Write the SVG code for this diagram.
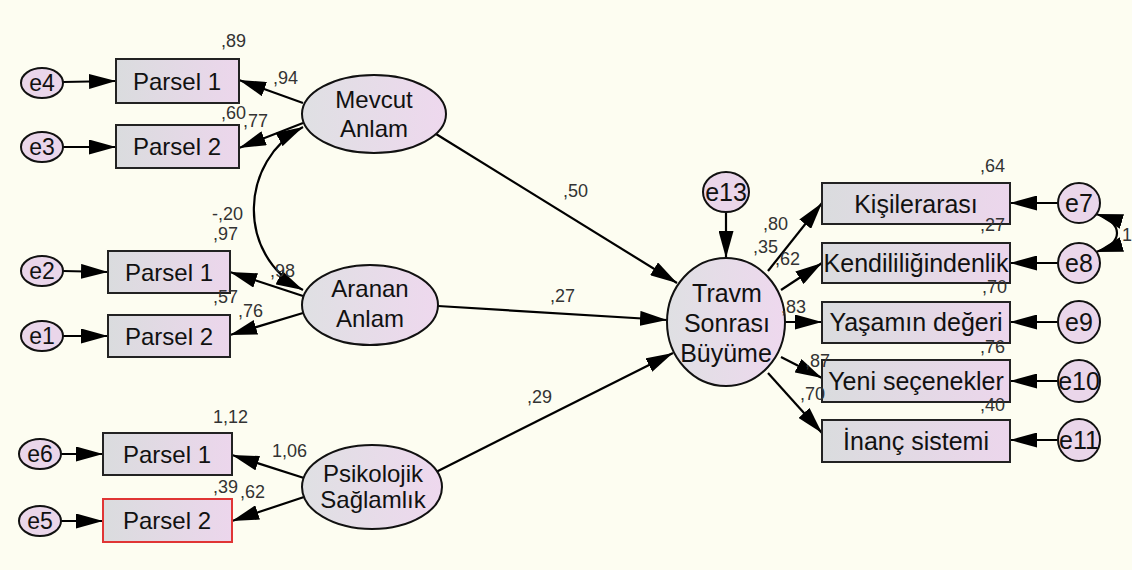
<svg xmlns="http://www.w3.org/2000/svg" width="1132" height="570" viewBox="0 0 1132 570">
<defs>
<linearGradient id="gb" x1="0" y1="0" x2="1" y2="0">
<stop offset="0" stop-color="#dadcde"/><stop offset="1" stop-color="#ecd6ec"/>
</linearGradient>
<linearGradient id="ge" x1="0" y1="0" x2="1" y2="0">
<stop offset="0" stop-color="#dfe0e3"/><stop offset="1" stop-color="#eed8ee"/>
</linearGradient>
<marker id="ah" viewBox="0 0 27 15" refX="27" refY="7.5" markerWidth="27" markerHeight="15" markerUnits="userSpaceOnUse" orient="auto-start-reverse">
<path d="M0,0 L27,7.5 L0,15 Z" fill="#000"/>
</marker>
<style>
.bx{fill:url(#gb);stroke:#222;stroke-width:2}
.lv{fill:url(#ge);stroke:#111;stroke-width:2}
.er{fill:#ead6ea;stroke:#111;stroke-width:2}
.c{fill:none;stroke:#000;stroke-width:2.2;marker-end:url(#ah)}
.cv{fill:none;stroke:#000;stroke-width:2.2;marker-start:url(#ah);marker-end:url(#ah)}
text{font-family:"Liberation Sans",Arial,sans-serif;fill:#111}
.t{font-size:24px;text-anchor:middle}
.tr{font-size:25px;text-anchor:middle}
.te{font-size:23px;text-anchor:middle}
.n{font-size:18px;fill:#333}
</style>
</defs>
<rect width="1132" height="570" fill="#fdfdf1"/>

<g id="connectors">
<line class="c" x1="63" y1="82" x2="116" y2="81"/>
<line class="c" x1="63" y1="147" x2="116" y2="147"/>
<line class="c" x1="63" y1="271" x2="108" y2="272"/>
<line class="c" x1="63" y1="336" x2="108" y2="336"/>
<line class="c" x1="61" y1="454" x2="103" y2="454"/>
<line class="c" x1="61" y1="521" x2="103" y2="521"/>
<line class="c" x1="303" y1="103" x2="239" y2="80"/>
<line class="c" x1="303" y1="123" x2="239" y2="148"/>
<line class="c" x1="303" y1="296" x2="230" y2="272"/>
<line class="c" x1="303" y1="313" x2="230" y2="335"/>
<line class="c" x1="304" y1="478" x2="232" y2="455"/>
<line class="c" x1="304" y1="497" x2="232" y2="521"/>
<path class="cv" d="M303,127 C240,160 235,255 303,290"/>
<line class="c" x1="436" y1="134" x2="677" y2="283"/>
<line class="c" x1="438" y1="306" x2="667" y2="320"/>
<line class="c" x1="436" y1="472" x2="673" y2="353"/>
<line class="c" x1="726" y1="212" x2="726" y2="258"/>
<line class="c" x1="768" y1="271" x2="822" y2="203"/>
<line class="c" x1="781" y1="290" x2="822" y2="263"/>
<line class="c" x1="785" y1="322" x2="822" y2="322"/>
<line class="c" x1="781" y1="357" x2="822" y2="378"/>
<line class="c" x1="768" y1="373" x2="822" y2="433"/>
<line class="c" x1="1058" y1="203" x2="1010" y2="203"/>
<line class="c" x1="1058" y1="263" x2="1010" y2="263"/>
<line class="c" x1="1058" y1="322" x2="1010" y2="322"/>
<line class="c" x1="1058" y1="381" x2="1010" y2="381"/>
<line class="c" x1="1058" y1="440" x2="1010" y2="440"/>
<path class="cv" d="M1096,214 C1124,222 1124,244 1096,252"/>
</g>

<g id="e4"><ellipse class="er" cx="42" cy="83" rx="21" ry="15"/><text class="te" x="42" y="91">e4</text></g>
<g id="e3"><ellipse class="er" cx="42" cy="147" rx="21" ry="15"/><text class="te" x="42" y="155">e3</text></g>
<g id="e2"><ellipse class="er" cx="42" cy="271" rx="21" ry="15"/><text class="te" x="42" y="279">e2</text></g>
<g id="e1"><ellipse class="er" cx="42" cy="336" rx="21" ry="15"/><text class="te" x="42" y="344">e1</text></g>
<g id="e6"><ellipse class="er" cx="40" cy="454" rx="21" ry="15"/><text class="te" x="40" y="462">e6</text></g>
<g id="e5"><ellipse class="er" cx="40" cy="521" rx="21" ry="15"/><text class="te" x="40" y="529">e5</text></g>

<g id="m_p1"><rect class="bx" x="116" y="59" width="123" height="44"/><text class="t" x="177" y="90">Parsel 1</text></g>
<g id="m_p2"><rect class="bx" x="116" y="125" width="123" height="43"/><text class="t" x="177" y="155">Parsel 2</text></g>
<g id="a_p1"><rect class="bx" x="108" y="251" width="122" height="42"/><text class="t" x="169" y="281">Parsel 1</text></g>
<g id="a_p2"><rect class="bx" x="108" y="315" width="122" height="42"/><text class="t" x="169" y="345">Parsel 2</text></g>
<g id="p_p1"><rect class="bx" x="103" y="433" width="129" height="42"/><text class="t" x="167" y="463">Parsel 1</text></g>
<g id="p_p2"><rect class="bx" x="103" y="499" width="129" height="43" style="stroke:#e03535"/><text class="t" x="167" y="529">Parsel 2</text></g>

<g id="mevcut"><ellipse class="lv" cx="374" cy="114" rx="72" ry="39"/><text class="t" x="374" y="108">Mevcut</text><text class="t" x="374" y="137">Anlam</text></g>
<g id="aranan"><ellipse class="lv" cx="370" cy="305" rx="68" ry="40"/><text class="t" x="370" y="297">Aranan</text><text class="t" x="370" y="327">Anlam</text></g>
<g id="psikolojik"><ellipse class="lv" cx="372" cy="487" rx="70" ry="42"/><text class="t" x="373" y="482">Psikolojik</text><text class="t" x="373" y="508">Sağlamlık</text></g>

<g id="travm"><ellipse class="lv" cx="726" cy="322" rx="59" ry="64"/><text class="tr" x="727" y="302">Travm</text><text class="tr" x="727" y="332">Sonrası</text><text class="tr" x="726" y="362">Büyüme</text></g>
<g id="e13"><ellipse class="er" cx="726" cy="192" rx="23" ry="20"/><text class="tr" x="726" y="201">e13</text></g>

<g id="kisilerarasi"><rect class="bx" x="822" y="183" width="188" height="41"/><text class="tr" x="916" y="213">Kişilerarası</text></g>
<g id="kendiligindenlik"><rect class="bx" x="822" y="243" width="188" height="40"/><text class="tr" x="916" y="272">Kendililiğindenlik</text></g>
<g id="yasamin"><rect class="bx" x="822" y="302" width="188" height="41"/><text class="tr" x="916" y="331">Yaşamın değeri</text></g>
<g id="yeni"><rect class="bx" x="822" y="360" width="188" height="42"/><text class="tr" x="916" y="390">Yeni seçenekler</text></g>
<g id="inanc"><rect class="bx" x="822" y="420" width="188" height="42"/><text class="tr" x="916" y="450">İnanç sistemi</text></g>

<g id="e7"><ellipse class="er" cx="1079" cy="203" rx="21" ry="20"/><text class="tr" x="1079" y="212">e7</text></g>
<g id="e8"><ellipse class="er" cx="1079" cy="263" rx="21" ry="20"/><text class="tr" x="1079" y="272">e8</text></g>
<g id="e9"><ellipse class="er" cx="1079" cy="322" rx="21" ry="21"/><text class="tr" x="1079" y="331">e9</text></g>
<g id="e10"><ellipse class="er" cx="1079" cy="381" rx="21" ry="21"/><text class="tr" x="1079" y="390">e10</text></g>
<g id="e11"><ellipse class="er" cx="1079" cy="440" rx="21" ry="21"/><text class="tr" x="1079" y="449">e11</text></g>

<g id="labels">
<text class="n" x="221" y="47">,89</text>
<text class="n" x="273" y="84">,94</text>
<text class="n" x="221" y="119">,60</text>
<text class="n" x="243" y="127">,77</text>
<text class="n" x="212" y="220">-,20</text>
<text class="n" x="213" y="240">,97</text>
<text class="n" x="270" y="277">,98</text>
<text class="n" x="213" y="303">,57</text>
<text class="n" x="238" y="317">,76</text>
<text class="n" x="213" y="423">1,12</text>
<text class="n" x="272" y="457">1,06</text>
<text class="n" x="213" y="493">,39</text>
<text class="n" x="240" y="498">,62</text>
<text class="n" x="563" y="197">,50</text>
<text class="n" x="550" y="302">,27</text>
<text class="n" x="527" y="403">,29</text>
<text class="n" x="763" y="230">,80</text>
<text class="n" x="753" y="253">,35</text>
<text class="n" x="775" y="265">,62</text>
<text class="n" x="781" y="313">,83</text>
<text class="n" x="805" y="367">,87</text>
<text class="n" x="800" y="400">,70</text>
<text class="n" x="980" y="172">,64</text>
<text class="n" x="980" y="231">,27</text>
<text class="n" x="982" y="293">,70</text>
<text class="n" x="980" y="353">,76</text>
<text class="n" x="980" y="411">,40</text>
<text class="n" x="1122" y="241">1</text>
</g>
</svg>
